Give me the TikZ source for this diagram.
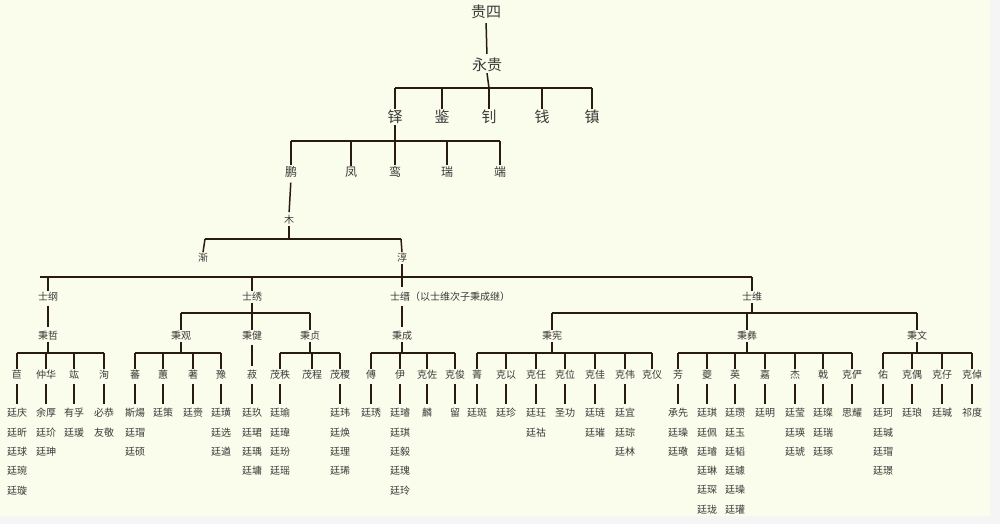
\documentclass[tikz,border=0pt]{standalone}
\usepackage{fontspec}
\newfontfamily\cjk{Noto Sans CJK SC}
\definecolor{bg}{HTML}{FAFDEB}
\definecolor{lc}{HTML}{2A1A14}
\definecolor{txt}{HTML}{3A3A3A}
\newcommand\gcol[3]{%
  \foreach \t [count=\i] in {#3} {\node[p] (g#1\i) at (#2,{413+19.3*(\i-1)}) {\t};}
  \draw[ln,shorten <=3pt,shorten >=3pt] (#1.south) -- (g#11.north);}
\begin{document}
\begin{tikzpicture}[x=1pt,y=-1pt,
  p/.style={font=\cjk\fontsize{10}{10}\selectfont, text=txt, inner sep=1pt},
  pm/.style={font=\cjk\fontsize{12}{12}\selectfont, text=txt, inner sep=1pt},
  pl/.style={font=\cjk\fontsize{15}{15}\selectfont, text=txt, inner sep=1pt},
  ln/.style={line width=1.5pt, draw=lc}]
\fill[bg] (0,0) rectangle (1000,524);
\fill[black!4] (990,0) rectangle (1000,524);
\fill[black!4] (0,516) rectangle (1000,524);
\useasboundingbox (0,0) rectangle (1000,524);
% top
\node[pl] (gs) at (486,12) {贵四};
\node[pl] (yg) at (487,65) {永贵};
\draw[ln,shorten <=3pt,shorten >=3pt] (gs.south) -- (yg.north);
\foreach \x/\n/\t in {395/duo/铎,442/jian/鉴,489/zhao/钊,542/qian/钱,592/zhen/镇}{
  \node[pl] (\n) at (\x,117) {\t}; \draw[ln] (\n.north) -- (\x,88);}
\draw[ln] (395,88) -- (592,88); \draw[ln] (yg.south) -- (489,88);
\foreach \x/\n/\t in {291/peng/鹏,351/feng/凤,395/luan/鸾,447/rui/瑞,500/duan/端}{
  \node[pm] (\n) at (\x,172) {\t}; \draw[ln] (\n.north) -- (\x,141);}
\draw[ln] (291,141) -- (500,141); \draw[ln] (duo.south) -- (395,141);
\node[p] (mu) at (289,220) {木};
\draw[ln,shorten <=4pt,shorten >=2pt] (peng.south) -- (mu.north);
\node[p] (jianx) at (203,258) {渐};
\node[p] (chun) at (402,258) {淳};
\draw[ln] (205,239) -- (401,239); \draw[ln] (mu.south) -- (289,239);
\draw[ln] (jianx.north) -- (205,239); \draw[ln] (chun.north) -- (401,239);
% shi level
\node[p] (sg) at (48,297) {士纲};
\node[p] (sx) at (252,297) {士绣};
\node[p,anchor=west] (sj) at (389,297) {士缙（以士维次子秉成继）};
\node[p] (sw) at (752,297) {士维};
\draw[ln] (40,277) -- (752,277); \draw[ln] (chun.south) -- (402,287);
\draw[ln] (sg.north) -- (48,277); \draw[ln] (sx.north) -- (252,277);
\draw[ln] (sw.north) -- (752,277);
% bing level
\node[p] (bzhe) at (48,336) {秉哲};
\draw[ln,shorten <=3pt,shorten >=3pt] (sg.south) -- (bzhe.north);
\node[p] (bguan) at (181,336) {秉观};
\node[p] (bjian) at (252,336) {秉健};
\node[p] (bzh) at (310,336) {秉贞};
\draw[ln] (181,313) -- (310,313); \draw[ln] (sx.south) -- (252,313);
\foreach \n in {bguan,bjian,bzh} \draw[ln] (\n.north) -- (\n.north |- 0,313);
\node[p] (bcheng) at (402,336) {秉成};
\draw[ln,shorten <=3pt,shorten >=3pt] (402,303) -- (bcheng.north);
\node[p] (bxian) at (552,336) {秉宪};
\node[p] (byi) at (747,336) {秉彝};
\node[p] (bwen) at (917,336) {秉文};
\draw[ln] (552,313) -- (917,313); \draw[ln] (sw.south) -- (752,313);
\foreach \n in {bxian,bwen} \draw[ln] (\n.north) -- (\n.north |- 0,313);
\draw[ln] (byi.north) -- (747,313);
% children
\newcommand\kids[4]{%
  \foreach \x/\n/\t in {#4} {\node[p] (\n) at (\x,375) {\t}; \draw[ln] (\n.north) -- (\x,353);}
  \draw[ln] (#2,353) -- (#3,353); \draw[ln] (#1.south) -- (#1.south |- 0,353);}
\kids{bzhe}{17}{104}{17/ka/苣,46/kb/仲华,74/kc/竑,104/kd/洵}
\kids{bguan}{135}{221}{135/ke/蕃,163/kf/蕙,193/kg/著,221/kh/豫}
\node[p] (ki) at (252,375) {菽};
\draw[ln,shorten <=3pt,shorten >=3pt] (bjian.south) -- (ki.north);
\kids{bzh}{280}{340}{280/kj/茂秩,312/kk/茂程,340/kl/茂稷}
\kids{bcheng}{371}{455}{371/km/傅,400/kn/伊,427/ko/克佐,455/kp/克俊}
\kids{bxian}{477}{652}{477/kq/菁,506/kr/克以,536/ks/克任,565/kt/克位,595/ku/克佳,625/kv/克伟,652/kw/克仪}
\kids{byi}{678}{852}{678/kx/芳,707/ky/夔,735/kz/英,765/ma/嘉,795/mb/杰,823/mc/戟,852/md/克俨}
\kids{bwen}{883}{972}{883/me/佑,912/mf/克偶,942/mg/克仔,972/mh/克倬}
% grandchildren
\gcol{ka}{17}{廷庆,廷昕,廷球,廷琬,廷璇}
\gcol{kb}{46}{余厚,廷玠,廷珅}
\gcol{kc}{74}{有孚,廷瑗}
\gcol{kd}{104}{必恭,友敬}
\gcol{ke}{135}{斯煬,廷瑁,廷硕}
\gcol{kf}{163}{廷策}
\gcol{kg}{193}{廷赍}
\gcol{kh}{221}{廷璜,廷选,廷遒}
\gcol{ki}{252}{廷玖,廷珺,廷瑀,廷墉}
\gcol{kj}{280}{廷瑜,廷瑋,廷玢,廷瑶}
\gcol{kl}{340}{廷玮,廷焕,廷理,廷琋}
\gcol{km}{371}{廷琇}
\gcol{kn}{400}{廷璿,廷琪,廷毅,廷瑰,廷玲}
\gcol{ko}{427}{麟}
\gcol{kp}{455}{留}
\gcol{kq}{477}{廷斑}
\gcol{kr}{506}{廷珍}
\gcol{ks}{536}{廷玨,廷祜}
\gcol{kt}{565}{圣功}
\gcol{ku}{595}{廷琏,廷璀}
\gcol{kv}{625}{廷宜,廷琮,廷林}
\gcol{kx}{678}{承先,廷璪,廷璥}
\gcol{ky}{707}{廷琪,廷佩,廷璿,廷琳,廷琛,廷珑}
\gcol{kz}{735}{廷瓒,廷玉,廷韬,廷璩,廷璪,廷瓘}
\gcol{ma}{765}{廷明}
\gcol{mb}{795}{廷莹,廷瑛,廷琥}
\gcol{mc}{823}{廷璨,廷瑞,廷琢}
\gcol{md}{852}{思耀}
\gcol{me}{883}{廷珂,廷瑊,廷瑁,廷璟}
\gcol{mf}{912}{廷琅}
\gcol{mg}{942}{廷瑊}
\gcol{mh}{972}{祁度}
\end{tikzpicture}
\end{document}
